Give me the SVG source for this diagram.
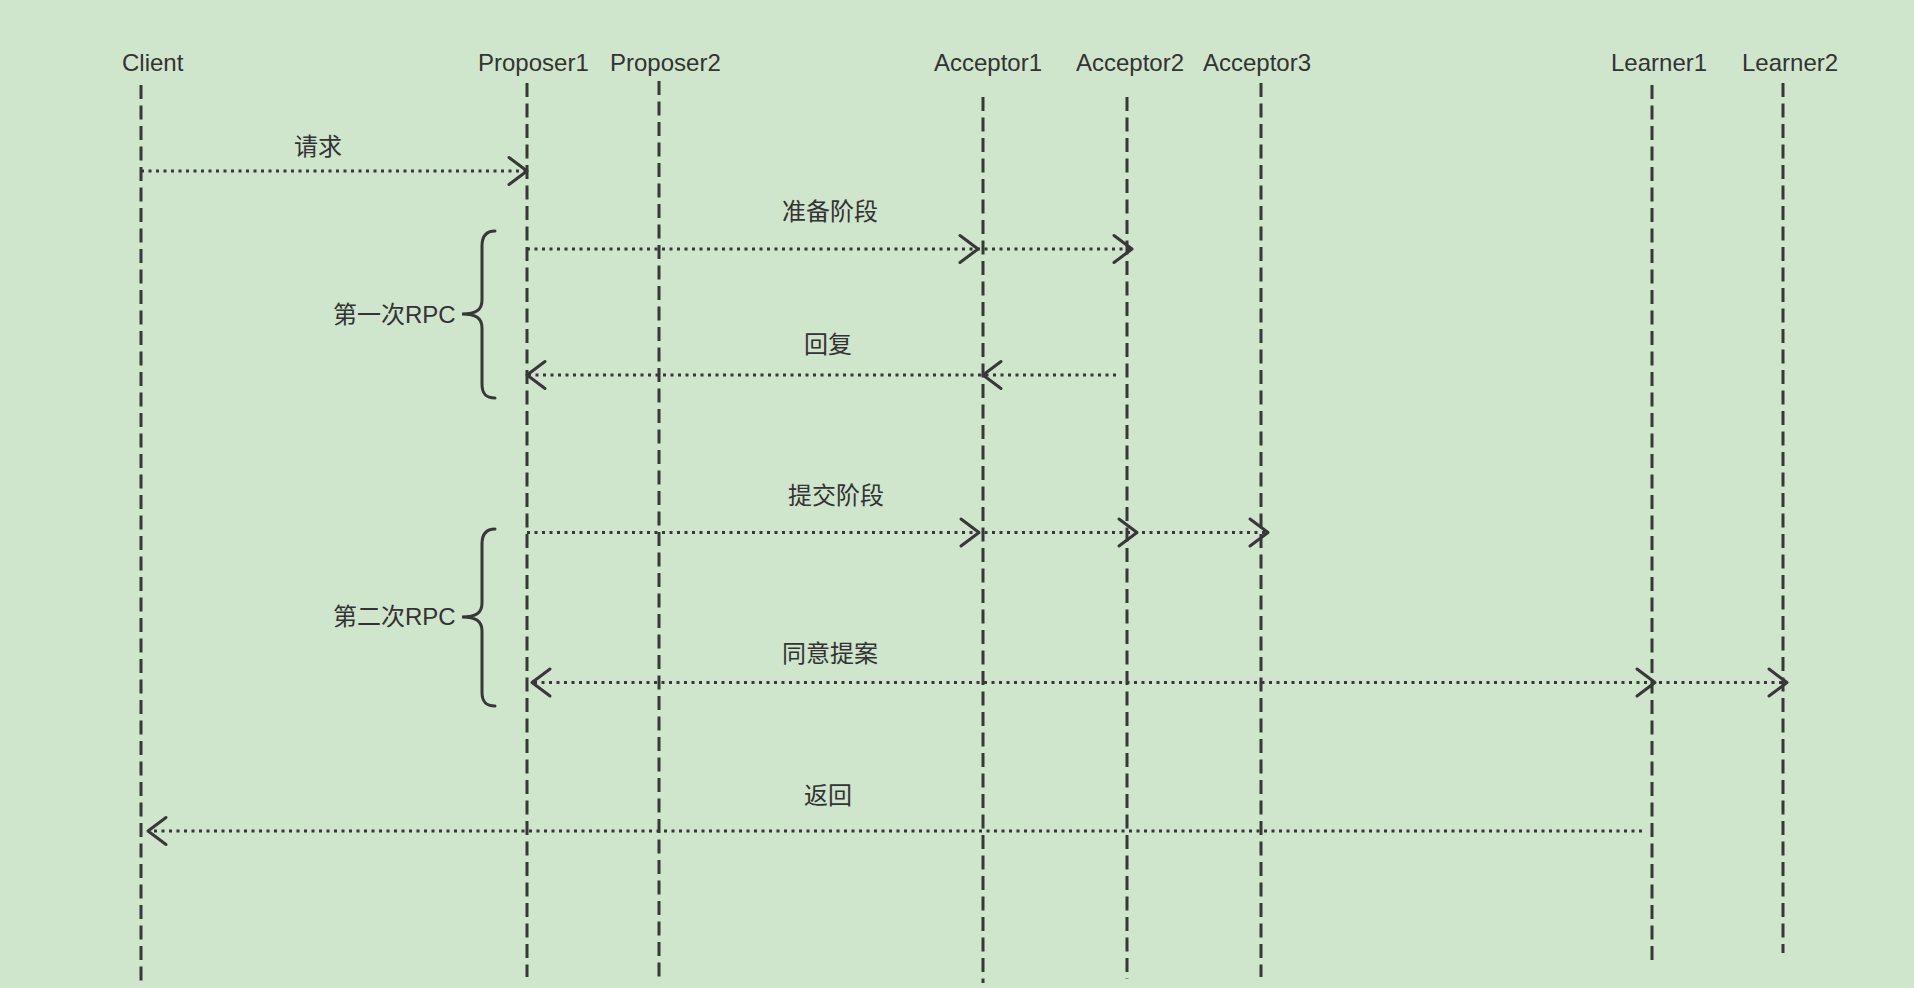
<svg xmlns="http://www.w3.org/2000/svg" xmlns:xlink="http://www.w3.org/1999/xlink" width="1914" height="988" viewBox="0 0 1914 988">
<style>
.lbl{font-family:"Liberation Sans","Noto Sans CJK SC",sans-serif;font-size:24px;fill:#333333}
.life{stroke:#383838;stroke-width:3;stroke-dasharray:14 6.5;fill:none}
.msg{stroke:#383838;stroke-width:3;stroke-dasharray:3 4.5;fill:none}
.ah{stroke:#383838;stroke-width:3;fill:none;stroke-linecap:round;stroke-linejoin:round}
.brace{stroke:#383838;stroke-width:3;fill:none;stroke-linecap:round}
</style>
<defs>
<path id="ar" class="ah" d="M-18,-13.5 L0,0 L-18,13.5"/>
</defs>
<rect x="0" y="0" width="1914" height="988" fill="#CFE5CC"/>
<g id="client"><text class="lbl" x="122" y="71">Client</text><line class="life" x1="141" y1="85" x2="141" y2="986"/></g>
<g id="proposer1"><text class="lbl" x="478" y="71">Proposer1</text><line class="life" x1="527" y1="83" x2="527" y2="977"/></g>
<g id="proposer2"><text class="lbl" x="610" y="71">Proposer2</text><line class="life" x1="659" y1="81" x2="659" y2="977"/></g>
<g id="acceptor1"><text class="lbl" x="934" y="71">Acceptor1</text><line class="life" x1="983" y1="97" x2="983" y2="983"/></g>
<g id="acceptor2"><text class="lbl" x="1076" y="71">Acceptor2</text><line class="life" x1="1127" y1="97" x2="1127" y2="979"/></g>
<g id="acceptor3"><text class="lbl" x="1203" y="71">Acceptor3</text><line class="life" x1="1261" y1="83" x2="1261" y2="977"/></g>
<g id="learner1"><text class="lbl" x="1611" y="71">Learner1</text><line class="life" x1="1652" y1="85" x2="1652" y2="960"/></g>
<g id="learner2"><text class="lbl" x="1742" y="71">Learner2</text><line class="life" x1="1783" y1="83" x2="1783" y2="953"/></g>
<g id="rpc1"><path class="brace" d="M495,231 C486,231 482,236 482,246 L482,300 C482,310 476,314 462,314 C476,314 482,318 482,328 L482,384 C482,394 486,398 495,398"/><text class="lbl" x="333" y="323">第一次RPC</text></g>
<g id="rpc2"><path class="brace" d="M495,529 C486,529 482,534 482,544 L482,603 C482,613 476,617 462,617 C476,617 482,621 482,631 L482,692 C482,702 486,706 495,706"/><text class="lbl" x="333" y="625">第二次RPC</text></g>
<g id="connectors">
<line class="msg" x1="141" y1="171" x2="525" y2="171"/>
<use xlink:href="#ar" transform="translate(527,171)"/>
<text class="lbl" x="294" y="155">请求</text>
<line class="msg" x1="527" y1="249" x2="1130" y2="249"/>
<use xlink:href="#ar" transform="translate(978,249)"/>
<use xlink:href="#ar" transform="translate(1132,249)"/>
<text class="lbl" x="782" y="220">准备阶段</text>
<line class="msg" x1="1116" y1="375" x2="529" y2="375"/>
<use xlink:href="#ar" transform="translate(983,375) scale(-1,1)"/>
<use xlink:href="#ar" transform="translate(527,375) scale(-1,1)"/>
<text class="lbl" x="804" y="353">回复</text>
<line class="msg" x1="527" y1="532.5" x2="1266" y2="532.5"/>
<use xlink:href="#ar" transform="translate(979,532.5)"/>
<use xlink:href="#ar" transform="translate(1137,532.5)"/>
<use xlink:href="#ar" transform="translate(1268,532.5)"/>
<text class="lbl" x="788" y="504">提交阶段</text>
<line class="msg" x1="534" y1="682.5" x2="1785" y2="682.5"/>
<use xlink:href="#ar" transform="translate(532,682.5) scale(-1,1)"/>
<use xlink:href="#ar" transform="translate(1655,682.5)"/>
<use xlink:href="#ar" transform="translate(1787,682.5)"/>
<text class="lbl" x="782" y="662">同意提案</text>
<line class="msg" x1="1642" y1="831" x2="150" y2="831"/>
<use xlink:href="#ar" transform="translate(148,831) scale(-1,1)"/>
<text class="lbl" x="804" y="804">返回</text>
</g>
</svg>
